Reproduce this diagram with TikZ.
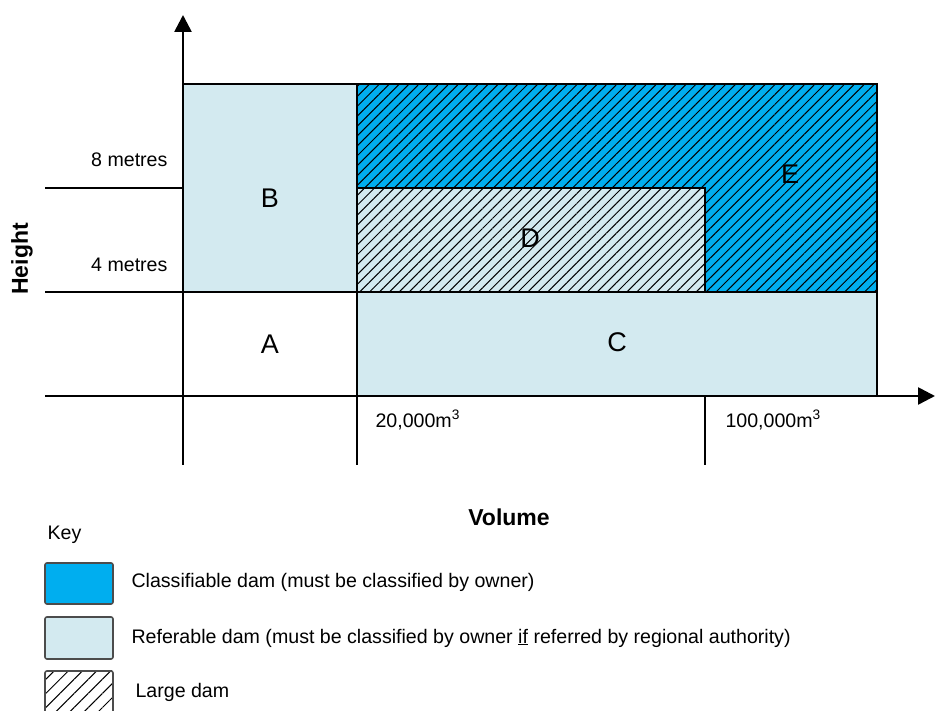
\documentclass[tikz,border=0pt]{standalone}
\usepackage{fontspec}
\setmainfont{Liberation Sans}
\usetikzlibrary{arrows.meta,patterns.meta}

\definecolor{classblue}{HTML}{00AEEF}
\definecolor{referblue}{HTML}{D3EAF0}

\tikzset{
  axis/.style={line width=2.6pt,-{Triangle[width=17pt,length=17pt]}},
  rule/.style={line width=2.4pt},
  region/.style={draw=black,line width=2.4pt},
  hatch/.style={pattern={Lines[angle=45,distance=7pt,line width=1pt]},pattern color=black},
  keyhatch/.style={pattern={Lines[angle=45,distance=10pt,line width=1pt]},pattern color=black},
  zone/.style={font=\fontsize{27}{30}\selectfont},
  tick/.style={font=\fontsize{19.6}{22}\selectfont},
  title/.style={font=\fontsize{23}{26}\selectfont\bfseries},
  keybox/.style={draw=black!70,line width=1.6pt,rounded corners=2pt},
}

\begin{document}
\begin{tikzpicture}[x=1pt,y=1pt]
\useasboundingbox (0,0) rectangle (935,711);

% regions
\fill[referblue] (183,627) rectangle (357,419);
\fill[classblue] (357,627) rectangle (877,419);
\path[hatch] (357,627) rectangle (877,419);
\draw[region] (357,627) rectangle (877,419);
\fill[referblue] (357,523) rectangle (705,419);
\path[hatch] (357,523) rectangle (705,419);
\draw[region] (357,523) rectangle (705,419);
\draw[region,fill=referblue] (357,419) rectangle (877,315);
\draw[region] (183,627) -- (357,627) -- (357,419);

% guide lines
\draw[rule] (45,523) -- (183,523);
\draw[rule] (45,419) -- (357,419);
\draw[rule] (357,315) -- (357,246);
\draw[rule] (705,315) -- (705,246);

% axes
\coordinate (origin) at (183,315);
\draw[axis] (183,246) -- (183,696);
\draw[axis] (45,315) -- (935,315);

% zone letters
\node[zone] (zoneA) at (270,367) {A};
\node[zone] (zoneB) at (270,513) {B};
\node[zone] (zoneC) at (617,369) {C};
\node[zone] (zoneD) at (530,473) {D};
\node[zone] (zoneE) at (790,537) {E};

% axis labels
\node[tick,anchor=east] (eight) at (171,551) {8 metres};
\node[tick,anchor=east] (four) at (171,446) {4 metres};
\node[title,rotate=90] (height) at (22,452) {Height};
\node[tick,anchor=west] (small) at (372,291) {20,000m\textsuperscript{3}};
\node[tick,anchor=west] (large) at (722,291) {100,000m\textsuperscript{3}};
\node[title] (volume) at (509,194) {Volume};

% key
\node[tick,anchor=west] (key) at (44,176) {Key};
\draw[keybox,fill=classblue] (45,148) rectangle (113,107);
\draw[keybox,fill=referblue] (45,94) rectangle (113,52);
\path[keyhatch] (45,40) rectangle (113,-10);
\draw[keybox] (45,40) rectangle (113,-10);
\node[tick,anchor=west] (classkey) at (128,129) {Classifiable dam (must be classified by owner)};
\node[tick,anchor=west] (referkey) at (128,73) {Referable dam (must be classified by owner \underline{if} referred by regional authority)};
\node[tick,anchor=west] (largekey) at (132,19) {Large dam};
\end{tikzpicture}
\end{document}
